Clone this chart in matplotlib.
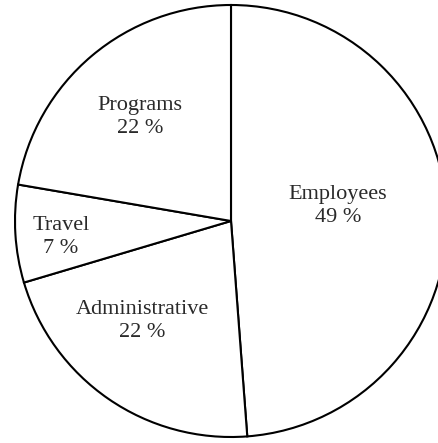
import matplotlib
matplotlib.use("Agg")
import matplotlib.pyplot as plt
import numpy as np

# slice data (clockwise from 12 o'clock)
categories = ["Employees", "Administrative", "Travel", "Programs"]
shares = [48.8, 21.6, 7.3, 22.3]

# label placement as a fraction of the radius, plus an angle nudge (degrees)
label_radius = [0.50, 0.62, 0.79, 0.64]
label_nudge = [6, -7, 2, 1]

W, H = 438, 443
CX, CY, R = 231, 221, 216  # pie centre / radius in pixels

plt.rcParams['font.family'] = ['Liberation Serif', 'DejaVu Serif']

fig = plt.figure(figsize=(W / 100, H / 100), dpi=100)
ax = fig.add_axes([0, 0, 1, 1])

wedges, _ = ax.pie(
    shares,
    startangle=90,
    counterclock=False,
    colors=["white"] * len(shares),
    wedgeprops=dict(edgecolor="black", linewidth=1.5),
)

for w, cat, val, rr, nudge in zip(wedges, categories, shares, label_radius, label_nudge):
    mid = np.deg2rad((w.theta1 + w.theta2) / 2 + nudge)
    ax.text(rr * np.cos(mid), rr * np.sin(mid), f"{cat}\n{round(val)} %",
            ha="center", va="center", fontsize=16, color="#2a2a2a",
            linespacing=1.3)

ax.set_xlim(-CX / R, (W - CX) / R)
ax.set_ylim(-(H - CY) / R, CY / R)
ax.set_aspect("auto")
ax.axis("off")

fig.savefig("out.png", dpi=100, facecolor="white")
